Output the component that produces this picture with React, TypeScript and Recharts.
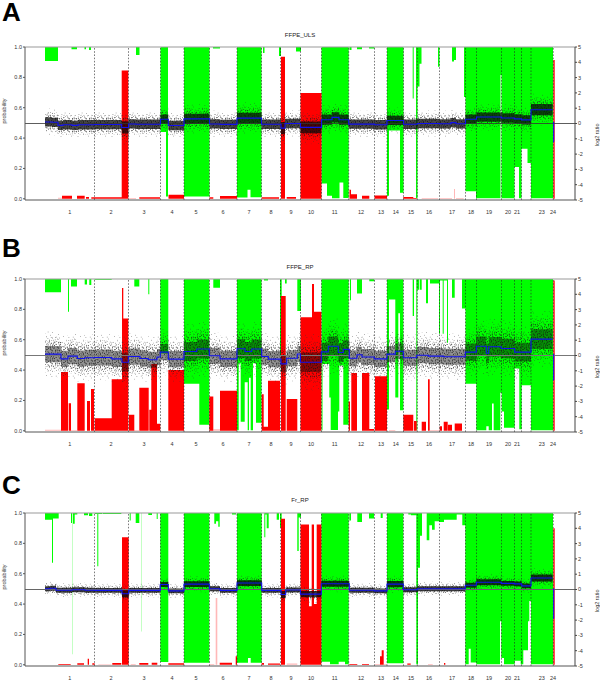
import React from 'react';
import { ComposedChart, Area, Line, XAxis, YAxis, ReferenceLine } from 'recharts';

type Seg = any[];

const chromosomeLabels = ['1','2','3','4','5','6','7','8','9','10','11','12','13','14','15','16','17','18','19','20','21','23','24'];
const chromosomeCentres = [69.7,111,144,172,196,223,249,271,291,311,334.7,361,381,395.7,411,429,452,471,489,508,517,541.7,553];
const chromosomeBoundaries = [94.5,128.5,160.5,184,209.5,237,261.5,280.5,300.5,321.5,348.7,374.5,387,403.5,417.3,439.5,465.5,476.5,501.5,514.5,521.5,531,553.3];
const probabilityTicks = [0,0.2,0.4,0.6,0.8,1];
const ratioTicks = [-5,-4,-3,-2,-1,0,1,2,3,4,5];

// [start, end, lower limit of the green block]
const greenA: Seg[] = [[45,58,.908],[71.5,77,.985],[84.5,86,.985],[89,91,.98],[136,139.5,.947],[160.5,166,.44],[166,168,.015],[184,209.5,.015],[213,220,.99],[237,247.5,.008],[247.5,250.5,.06],[250.5,261.5,.01],[263,264.5,.96],[279,281,.94],[296,301,.97],[321.5,327,.1],[327,332,.02],[332,339.5,.003],[339.5,343.3,.107],[343.3,348.7,.005],[349.5,351.5,.98],[357,362,.985],[369,374.5,.99],[387,389,.02],[389,400,.45],[400,403.5,.04],[412.7,413.7,.66],[416,417.5,.003],[417.5,419.5,.74],[419.5,421.5,.89],[438,439.5,.87],[452,454,.905],[454,456,.915],[464,465.5,.67],[465.5,476,.05],[476,500.5,.003],[500.5,501.5,.815],[501.5,514.5,.003],[514.5,519,.21],[519,521.5,.003],[521.5,527.5,.33],[527.5,531,.235],[531,553,.003]];
const redA: Seg[] = [[62,72,.02],[77,84.7,.02],[86,89,.012],[91.3,121.7,.01],[121.7,128.3,.845],[139.3,160,.01],[168.5,184,.026],[209.5,213.3,.01],[220,237,.018],[261.7,279,.01],[281,285,.935],[286.7,296,.012],[300.5,321.5,.697],[349.5,351,.06],[351,357,.03],[362,369.3,.02],[374.5,387,.022],[403.3,413.3,.012],[413.3,416.7,.005],[553.3,554.7,.915]];
const paleRedA: Seg[] = [[58,62,.007],[129,136,.006],[421.7,438.3,.006],[440,452,.006],[454,455,.065],[456,463.7,.006]];
const paleGreenA: Seg[] = [];
// [start, end, mean log2 ratio, optional spread]
const blueA: Seg[] = [[45,52,.1],[52,58,.08],[58,63,-.12],[63,72,-.08],[72,78,-.12],[78,85,-.08],[85,94.5,-.08],[94.5,121.7,-.07],[121.7,128.5,-.26,.5],[128.5,136,-.03],[136,160.5,-.05],[160.5,168.3,.28],[168.3,184,-.13],[184,209.5,.3,.42],[209.5,220,-.03],[220,237,-.06],[237,261.5,.35,.45],[261.5,281,-.05],[281,285,-.3,.5],[285,300.5,0],[300.5,321.5,-.25,.48],[321.5,332,.25,.42],[332,339,.4,.42],[339,348.7,.25,.42],[348.7,374.5,-.04],[374.5,387,-.08],[387,403.5,.2],[403.5,417.3,-.05],[417.3,439.5,0],[439.5,451,-.02],[451,456,.06],[456,465.5,-.02],[465.5,476.5,.28],[476.5,501.5,.42],[501.5,514.5,.36],[514.5,521.5,.3],[521.5,531,.24],[531,552.6,.9,.46],[552.6,552.9,.9,.46],[552.9,553.5,null,0],[553.5,553.7,.1,0],[553.7,554,-1.2,0]];

const greenB: Seg[] = [[45,61,.912],[68,69,.785],[71,77,.95],[84.7,87,.963],[89.3,91.3,.96],[94.5,111.7,.995],[134.3,139.3,.95],[148.3,149.3,.9],[160.3,168.3,.51],[184,199.3,.31],[199.3,209.3,.04],[213.3,220,.943],[237,238.7,.003],[238.7,240.7,.445],[240.7,244.7,.06],[244.7,247.7,.32],[247.7,249,.003],[249,250.7,.35],[250.7,253,.003],[253,256,.445],[256,261.5,.053],[264,268,.99],[280,281.7,.5],[285,286.7,.97],[297.3,301,.79],[321.5,322.5,.003],[322.5,329.3,.44],[329.3,330.7,.22],[330.7,338,.005],[338,339.3,.127],[339.3,343.3,.43],[343.3,348.7,.04],[350,351,.86],[357,362,.905],[369.3,374.3,.985],[387,389,.14],[389,395.3,.865],[395.3,398.3,.22],[398.3,400,.775],[400,403.3,.135],[412.7,414,.756],[416.3,417.3,.003],[417.3,419.3,.93],[420,421.7,.93],[426,428,.84],[430,439,.97],[439,440,.64],[440,442.7,.99],[442.7,443.7,.64],[443.7,447,.99],[447,448,.58],[452,454.7,.877],[462,465.5,.805],[465.5,476.3,.31],[476.3,486.3,.003],[486.3,488.7,.03],[488.7,492,.003],[492,493.7,.18],[493.7,500.3,.003],[500.3,501.7,.25],[501.7,504,.127],[504,514.7,.02],[514.7,519.3,.41],[519.3,521.7,.01],[521.7,531,.3],[531,553,.003]];
const redB: Seg[] = [[61,68,.388],[68.7,71,.182],[77.3,84.7,.314],[87,90,.197],[91,94,.276],[94.7,111.7,.083],[111.7,122,.34],[122,123.3,.94],[123.3,128.3,.74],[129,134.3,.105],[139.3,148.7,.283],[149.3,151.3,.138],[151.3,157,.44],[157,160.3,.046],[168.3,184,.4],[209.3,213.3,.226],[220,237,.263],[261.7,263.7,.24],[263.7,268,.026],[268,280,.33],[281,285.7,.888],[286.7,297.3,.21],[300.5,312,.748],[312,314,.967],[314,321.3,.785],[348.7,350,.193],[351.3,357,.38],[362,369.3,.38],[369.3,374.3,.011],[375,387,.36],[403.3,413.3,.105],[414,416.7,.065],[421.7,426,.06],[428,429.7,.34],[439.7,442,.03],[443.7,447.7,.06],[448,452,.04],[454.7,462,.048],[553.3,554.7,.99]];
const paleRedB: Seg[] = [[45,61,.007],[71,77,.005],[134,139,.005],[213.3,220,.01],[389,395.3,.005],[430,439,.006]];
const paleGreenB: Seg[] = [];
const blueB: Seg[] = [[45,61,.09],[61,68,-.22],[68,77.3,-.04],[77.3,84.7,-.2],[84.7,94.7,-.15],[94.7,111.7,-.13],[111.7,122,-.22],[122,128.3,-.44,.78],[128.3,140,-.07],[140,148.3,-.2],[148.3,157,-.28],[157,160.3,-.1],[160.3,168.3,.22],[168.3,184,-.24],[184,196.7,.26,.78],[196.7,209.3,.42,.78],[209.3,220,-.02],[220,237,-.22],[237,245,.44,.78],[245,251.7,.26,.78],[251.7,261.7,.42,.78],[261.7,268.3,-.07],[268.3,280,-.24],[281,285.7,-.55],[286.7,297.3,-.18],[297.3,300.5,.1],[300.5,321.3,-.44,.8],[321.3,328.3,.24,.74],[328.3,338.3,.6,.8],[338.3,343.3,.2,.76],[343.3,348.7,.4,.74],[349.3,357,-.18],[357,362,.05],[362,374.3,-.1],[374.3,387,-.22],[387,395.3,.09],[395.3,403.3,.28],[403.3,416.7,-.15],[416.7,428.3,.02],[428.3,443.3,-.04],[443.3,465.3,-.08],[465.3,476.3,.22,.7],[476.3,486.3,.6,.8],[486.3,488.7,.15,.8],[488.7,501.3,.57,.8],[501.3,514.7,.46,.8],[514.7,531,.22,.76],[531,552.6,1.07,.8],[552.6,552.9,1.07,.8],[552.9,553.5,null,0],[553.5,553.7,.1,0],[553.7,554,-1.6,0]];

const greenC: Seg[] = [[45,52,.955],[52,53,.673],[53,58.7,.963],[71,72,.934],[72,72.7,.85],[72.7,74.7,.93],[74.7,77.3,.99],[84,88,.985],[89,92.3,.98],[94.7,97.3,.993],[97.3,98.3,.65],[98.3,121.3,.993],[129.7,130.7,.95],[135.7,139.3,.934],[148.3,152,.987],[156.7,157.7,.96],[160.3,168.3,.018],[184,209.3,.013],[214.3,216,.93],[216,218.3,.945],[218.3,219.7,.91],[232,236,.99],[237,248,.013],[248,250.7,.045],[250.7,261.7,.013],[264.3,265.3,.84],[265.3,266.7,.99],[266.7,268.7,.9],[276.7,279,.955],[280,281.7,.905],[297.3,298.7,.75],[298.7,301,.97],[321.3,330,.02],[330,338.7,.003],[338.7,345,.02],[345,348.7,.003],[349.3,351,.95],[357.3,362,.94],[369,374,.963],[380.7,382.7,.967],[387,403.3,.01],[408.3,411,.99],[411,416.3,.985],[416.3,418,.003],[418,420,.64],[420,422,.85],[426.7,429.3,.82],[429.3,432,.92],[432,434.7,.89],[434.7,439.3,.945],[439.3,444,.94],[444,456.7,.955],[456.7,462.3,.99],[462.3,465.3,.92],[465.3,468.7,.003],[468.7,470.7,.105],[470.7,476.3,.015],[476.3,500,.003],[500,501.3,.287],[501.3,504,.045],[504,514.7,.003],[514.7,520.7,.026],[520.7,523.3,.003],[523.3,528,.096],[528,529.3,.287],[529.3,531,.42],[531,553,.003]];
const redC: Seg[] = [[58.3,70.7,.006],[77.3,84,.01],[87.7,89,.04],[92.3,94.7,.01],[112.3,121.3,.012],[122,128.7,.84],[139.3,148.3,.012],[151.7,157.3,.014],[168.3,184,.01],[219.7,232,.014],[235.7,237,.057],[261.7,264,.012],[268,280,.008],[281,285,.962],[300.5,309,.925],[309,311.7,.386],[311.7,314,.925],[314,316.7,.4],[316.7,321.3,.925],[349.3,357.3,.005],[362,369,.005],[380,381.7,.057],[381.7,383.7,.096],[407.3,410.7,.008],[444,445.3,.012],[553.3,554.7,.9]];
const paleRedC: Seg[] = [[98.3,111.7,.004],[130.7,135.7,.006],[209.3,214.3,.006],[215.7,217.3,.44],[286.7,297.3,.008],[374.7,380,.006],[383.7,387,.006],[428,432.7,.005]];
const paleGreenC: Seg[] = [[72,73,.07],[141,142,.22],[102,103,.995]];
const blueC: Seg[] = [[45,50,.05],[50,56,.08],[56,63,-.05],[63,72,-.05],[72,85,-.02],[85,94.7,-.05],[94.7,121.7,-.06],[122,128.7,-.28,.28],[128.7,160.3,-.06],[160.3,168.3,.33],[168.3,184,-.09],[184,209.3,.35,.24],[209.3,220,.05],[220,237,-.06],[237,261.7,.42,.24],[261.7,280.7,-.06],[281,285.7,-.33,.28],[285.7,300.5,-.03],[300.5,321.3,-.3,.25],[321.3,348.7,.38,.25],[349.3,374.3,-.05],[374.3,387,-.09],[387,403.3,.35,.25],[403.3,417.3,-.02],[417.3,439.3,.05],[439.3,465.3,.05],[465.3,476.3,.28],[476.3,501.3,.47,.25],[501.3,514.3,.4],[514.3,521.7,.37],[521.7,531,.24],[531,552.6,.75,.28],[552.6,552.9,.75,.28],[552.9,553.5,null,0],[553.5,553.7,.05,0],[553.7,554,-1.9,0]];

// texture of the scatter cloud, one irregular tile
const speckle = [[0.6,1.2],[12.3,0.4],[6.1,2.7],[15.2,3.9],[3.4,5.8],[9.7,6.4],[1.2,9.3],[13.8,8.7],[7.4,11.2],[16.1,11.9],[4.9,0.8],[10.6,10.1],
  [2.2,3.1],[8.3,0.9],[14.4,1.7],[0.3,6.2],[5.6,4.4],[11.4,3.6],[16.4,6.6],[7.8,5.1],[2.9,7.9],[12.6,5.9],[9.1,8.6],[15.3,9.8],[0.9,11.6],[5.2,9.7],[12.1,11.8],[3.8,11.1],[10.2,1.9],[6.9,7.6],[14.5,12.2],[8.8,12.4],[1.8,0.2],[11.2,7.3],[4.4,2.6],[13.4,3.1],[16.7,0.7],[0.2,4.1],[7.1,9.4],[10.3,4.8]];

function pick(list: Seg[], x: number) {
  return list.find((s) => s[0] <= x && x < s[1]);
}
function pickClosed(list: Seg[], x: number) {
  return pick(list, x) ?? list.find((s) => s[1] === x);
}

function buildRows(green: Seg[], red: Seg[], paleRed: Seg[], paleGreen: Seg[], blue: Seg[], spread: number) {
  const xs = Array.from(new Set([...green, ...red, ...paleRed, ...paleGreen, ...blue].flatMap((s) => [s[0], s[1]]))).sort((a, b) => a - b);
  let last: Seg | undefined;
  return xs.map((x) => {
    const g = pick(green, x), r = pick(red, x), pr = pick(paleRed, x), pg = pick(paleGreen, x);
    let b = pickClosed(blue, x);
    if (!b && last && x >= blue[0][0] && x <= blue[blue.length - 1][1]) b = last;
    if (b) last = b;
    const w = b ? (b[3] ?? spread) : 0;
    const m = b ? b[2] : null;
    const band = (k: number) => (b && m !== null ? [m - w * k, m + w * k] : null);
    return {
      x,
      green: [g ? g[2] : 1, 1],
      red: [0, r ? r[2] : 0],
      paleRed: [0, pr ? pr[2] : 0],
      paleGreen: [pg ? pg[2] : 1, 1],
      mean: m,
      core: band(0.8),
      dense: band(1.25),
      mid: band(1.7),
      outer: band(2.3),
    };
  });
}

const tickFont = { fontSize: 5.5, fontFamily: 'Liberation Sans', fill: '#333' };

function Panel({ top, name, letter, letterTop, titleTop, rows, coreOpacity, zeroColor, zeroWidth }: any) {
  const axisLabel = { fontSize: 5.5, fontFamily: 'Liberation Sans', fill: '#333' };
  const pid = 'p' + letter;
  const areaProps = { type: 'stepAfter', stroke: 'none', dot: false, activeDot: false, isAnimationActive: false, fillOpacity: 1 } as any;
  return (
    <>
      <div style={{ position: 'absolute', left: 2, top: letterTop, fontFamily: 'Liberation Sans', fontWeight: 'bold', fontSize: 26, lineHeight: '22px', color: '#000' }}>{letter}</div>
      <div style={{ position: 'absolute', left: 200, width: 200, top: titleTop, textAlign: 'center', fontFamily: 'Liberation Sans', fontSize: 6, lineHeight: '8px', color: '#222' }}>{name}</div>
      <div style={{ position: 'absolute', left: 0, top }}>
        <ComposedChart width={600} height={220} data={rows} margin={{ top: 47, right: 0, bottom: 0, left: 0 }}>
          <defs>
            <pattern id={pid + 'sparse'} width="17" height="13" patternUnits="userSpaceOnUse">
              {speckle.slice(0, 12).map((d, i) => <rect key={i} x={d[0]} y={d[1]} width="0.6" height="0.6" fill="#333" />)}
            </pattern>
            <pattern id={pid + 'mid'} width="17" height="13" patternUnits="userSpaceOnUse" patternTransform="translate(3 5)">
              {speckle.map((d, i) => <rect key={i} x={d[0]} y={d[1]} width="0.6" height="0.6" fill="#222" />)}
            </pattern>
            <pattern id={pid + 'dense'} width="17" height="13" patternUnits="userSpaceOnUse" patternTransform="translate(9 2)">
              {speckle.map((d, i) => <rect key={i} x={d[0]} y={d[1]} width="0.8" height="0.8" fill="#111" />)}
            </pattern>
          </defs>
          <XAxis dataKey="x" type="number" domain={[25, 575]} ticks={chromosomeCentres} interval={0} height={20}
            tickFormatter={(v: number) => chromosomeLabels[chromosomeCentres.indexOf(v)]}
            tick={tickFont} tickLine={false} tickMargin={4} axisLine={{ stroke: '#555', strokeWidth: 1 }} />
          <YAxis yAxisId="p" orientation="left" width={25} domain={[-0.008, 1]} ticks={probabilityTicks} interval={0} allowDataOverflow
            tickFormatter={(v: number) => v.toFixed(1)} tick={tickFont} tickSize={2} tickMargin={1} stroke="#555"
            label={{ value: 'probability', angle: -90, position: 'insideLeft', offset: 0, dx: 4, dy: 0, style: axisLabel }} />
          <YAxis yAxisId="r" orientation="right" width={25} domain={[-5, 5]} ticks={ratioTicks} interval={0} allowDataOverflow
            tick={tickFont} tickSize={2} tickMargin={1} stroke="#444"
            label={{ value: 'log2 ratio', angle: -90, position: 'insideRight', offset: 0, dx: -3, style: axisLabel }} />
          <Area yAxisId="p" dataKey="green" fill="#00ff00" {...areaProps} />
          <Area yAxisId="p" dataKey="paleGreen" fill="#c4ffc4" {...areaProps} />
          <Area yAxisId="p" dataKey="paleRed" fill="#ffb8b8" {...areaProps} />
          <Area yAxisId="p" dataKey="red" fill="#ff0000" {...areaProps} />
          {chromosomeBoundaries.map((x) => (
            <ReferenceLine key={x} yAxisId="p" x={x} stroke="#222" strokeWidth={0.6} strokeDasharray="1.6 1.6" />
          ))}
          <ReferenceLine yAxisId="p" y={1} stroke="#999" strokeWidth={1} />
          <Area yAxisId="r" dataKey="outer" fill={`url(#${pid}sparse)`} {...areaProps} />
          <Area yAxisId="r" dataKey="mid" fill={`url(#${pid}mid)`} {...areaProps} />
          <Area yAxisId="r" dataKey="dense" fill={`url(#${pid}dense)`} {...areaProps} />
          <Area yAxisId="r" dataKey="core" fill="#0a0a0a" {...areaProps} fillOpacity={coreOpacity} />
          <ReferenceLine yAxisId="r" y={0} stroke={zeroColor} strokeWidth={zeroWidth} />
          <Line yAxisId="r" dataKey="mean" type="stepAfter" stroke="#1010f0" strokeWidth={1.1} dot={false} activeDot={false} isAnimationActive={false} />
        </ComposedChart>
      </div>
    </>
  );
}

const rowsA = buildRows(greenA, redA, paleRedA, paleGreenA, blueA, 0.38);
const rowsB = buildRows(greenB, redB, paleRedB, paleGreenB, blueB, 0.66);
const rowsC = buildRows(greenC, redC, paleRedC, paleGreenC, blueC, 0.2);

export default function App() {
  return (
    <div style={{ position: 'absolute', left: 0, top: 0, width: 600, height: 698, background: '#fff', overflow: 'hidden' }}>
      <Panel top={0} letter="A" letterTop={1} titleTop={31} name="FFPE_ULS" rows={rowsA} coreOpacity={0.75} zeroColor="#333" zeroWidth={0.8} />
      <Panel top={232} letter="B" letterTop={237} titleTop={263} name="FFPE_RP" rows={rowsB} coreOpacity={0.45} zeroColor="#777" zeroWidth={1.2} />
      <Panel top={466} letter="C" letterTop={474} titleTop={496} name="Fr_RP" rows={rowsC} coreOpacity={0.8} zeroColor="#666" zeroWidth={1} />
    </div>
  );
}
